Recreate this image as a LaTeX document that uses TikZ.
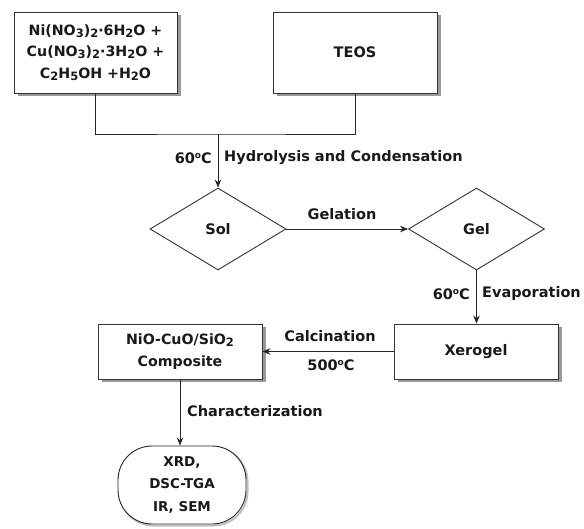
\documentclass[tikz,border=0pt]{standalone}
\usepackage{fontspec}
\setmainfont{DejaVu Sans}
\usetikzlibrary{shapes.geometric,arrows.meta}
\newcommand{\sbs}[1]{\raisebox{-0.3ex}{\fontsize{11.5}{0}\selectfont #1}}
\newcommand{\degc}{\raisebox{0.55ex}{\fontsize{9}{0}\selectfont o}C}
\begin{document}
\begin{tikzpicture}[x=1pt,y=-1pt,
  font=\fontsize{14.5}{21.5}\selectfont\bfseries,
  every node/.style={text=black!90},
  boxnode/.style={draw=black!80, line width=0.9pt, fill=white, align=center,
    inner sep=0pt},
  shadowfill/.style={fill=black!40, draw=none},
  dia/.style={draw=black!80, line width=0.9pt, fill=white, diamond, inner sep=0pt,
    minimum width=136pt, minimum height=82pt, aspect=1.66},
  conn/.style={draw=black!85, line width=0.9pt},
  arr/.style={conn, -{Stealth[length=8pt,width=6.5pt]}},
  lbl/.style={inner sep=0pt}]
\fill[white] (0,0) rectangle (584,529);
\useasboundingbox (0,0) rectangle (584,529);
% shadows
\path[shadowfill] (17.5,15.5) rectangle (180.5,96.5);
\path[shadowfill] (276.5,15.5) rectangle (440.5,96.5);
\path[shadowfill] (397.5,327.5) rectangle (561.5,382.5);
\path[shadowfill] (101.5,327.5) rectangle (265.5,382.5);
\draw[draw=black!25, line width=2pt, rounded corners=34pt] (119.5,447.5) rectangle (247.5,525.5);
% nodes
\node[boxnode, minimum width=163pt, minimum height=81pt, font=\fontsize{14.2}{21.5}\selectfont\bfseries] (mix) at (95.5,52.5)
  {Ni(NO\sbs{3})\sbs{2}·6H\sbs{2}O +\\Cu(NO\sbs{3})\sbs{2}·3H\sbs{2}O +\\C\sbs{2}H\sbs{5}OH +H\sbs{2}O};
\node[boxnode, minimum width=164pt, minimum height=81pt] (teos) at (355,52.5) {TEOS};
\coordinate (j) at (218,134);
\node[dia] (sol) at (218,229) {Sol};
\node[dia] (gel) at (476.5,229) {Gel};
\node[boxnode, minimum width=164pt, minimum height=55pt] (xero) at (476,351.5) {Xerogel};
\node[boxnode, minimum width=164pt, minimum height=55pt, font=\fontsize{14.2}{21.5}\selectfont\bfseries] (nio) at (180,351.5)
  {NiO-CuO/SiO\sbs{2}\\Composite};
\node[draw=black!85, line width=0.9pt, fill=white, rounded corners=34pt, align=center,
  minimum width=128pt, minimum height=78pt, inner sep=0pt,
  font=\fontsize{13.5}{22.5}\selectfont\bfseries] (char) at (182,485)
  {XRD,\\DSC-TGA\\IR, SEM};
\draw[conn] (mix.south) |- (j) -| (teos.south);
\draw[arr] (j) -- (sol.north);
\draw[arr] (sol.east) -- (gel.west);
\draw[arr] (gel.south) -- (gel.south |- xero.north);
\draw[arr] (xero.west) -- (nio.east);
\draw[arr] (nio.south) -- (nio.south |- char.north);
\node[lbl, anchor=east] (t1) at (212,158) {60\degc};
\node[lbl, anchor=west] (t2) at (224,158) {Hydrolysis and Condensation};
\node[lbl] (t3) at (342,214) {Gelation};
\node[lbl, anchor=east] (t4) at (470,294) {60\degc};
\node[lbl, anchor=west] (t5) at (482,294) {Evaporation};
\node[lbl] (t6) at (330,336) {Calcination};
\node[lbl] (t7) at (331,365) {500\degc};
\node[lbl, anchor=west] (t8) at (187,411) {Characterization};
\end{tikzpicture}
\end{document}
